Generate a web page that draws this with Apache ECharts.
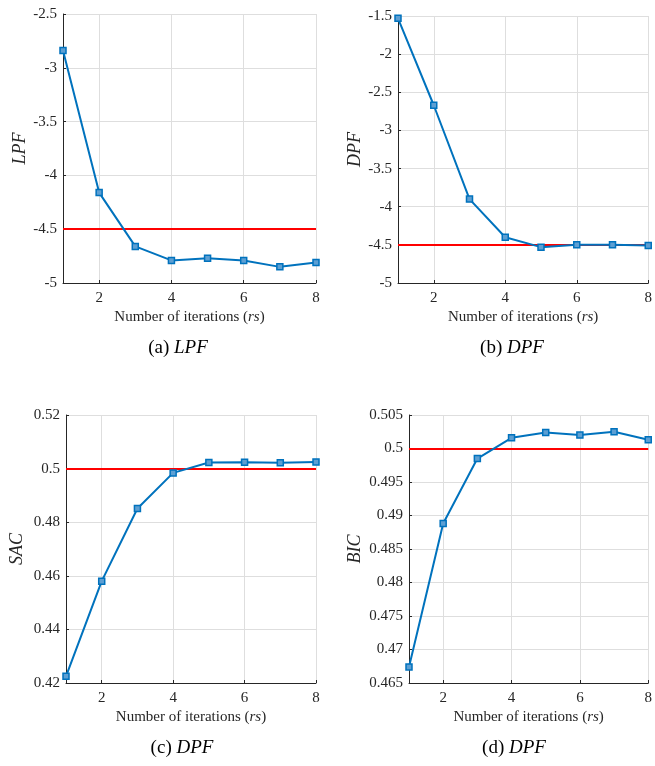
<!DOCTYPE html>
<html lang="en">
<head>
    <meta charset="UTF-8">
    <title>Iterations</title>
    <style>
        html,body{margin:0;padding:0;background:#fff}
        #main{width:655px;height:766px}
    </style>
</head>
<body>
<div id="main"></div>
<script src="https://cdn.jsdelivr.net/npm/echarts@6/dist/echarts.min.js"></script>
<script>
    // data
    var iters = [1, 2, 3, 4, 5, 6, 7, 8];
    var xTicks = [2, 4, 6, 8];
    var lpf = [-2.84, -4.16, -4.66, -4.79, -4.77, -4.79, -4.85, -4.81];
    var dpf = [-1.53, -2.67, -3.90, -4.40, -4.53, -4.50, -4.50, -4.51];
    var sac = [0.4225, 0.4580, 0.4851, 0.4984, 0.5023, 0.5024, 0.5022, 0.5025];
    var bic = [0.4674, 0.4888, 0.4985, 0.5016, 0.5024, 0.5020, 0.5025, 0.5013];
    var refLines = [-4.5, -4.5, 0.5, 0.5];
    var yNames = ['LPF', 'DPF', 'SAC', 'BIC'];
    var captions = [['(a) ', 'LPF'], ['(b) ', 'DPF'], ['(c) ', 'DPF'], ['(d) ', 'DPF']];
    var yMin = [-5, -5, 0.42, 0.465];
    var yMax = [-2.5, -1.5, 0.52, 0.505];
    var yStep = [0.5, 0.5, 0.02, 0.005];

    var allSeries = [lpf, dpf, sac, bic];
    // layout of the four panels
    var grids = [
        {left: 63, top: 14, width: 253, height: 269},
        {left: 398, top: 16, width: 254, height: 267},
        {left: 66, top: 415, width: 250, height: 268},
        {left: 409, top: 415, width: 243, height: 268}
    ];
    var nameGaps = [34, 34, 40, 45];
    var capPos = [[178, 348], [512, 348], [182, 748], [514, 748]];

    var serif = '"Liberation Serif", "DejaVu Serif", serif';
    var txt = '#262626';

    var myChart = echarts.init(document.getElementById('main'));

    var xAxes = [], yAxes = [], series = [], graphics = [];
    for (var i = 0; i < 4; i++) {
        xAxes.push({
            gridIndex: i, type: 'value', min: 1, max: 8,
            name: '{n|Number of iterations (}{i|rs}{n|)}',
            nameLocation: 'middle', nameGap: 27,
            nameTextStyle: {
                rich: {
                    n: {fontFamily: serif, fontSize: 15, color: txt},
                    i: {fontFamily: serif, fontSize: 15, color: txt, fontStyle: 'italic'}
                }
            },
            axisLine: {show: true, onZero: false, lineStyle: {color: '#262626', width: 1}},
            axisTick: {show: true, inside: true, length: 3, customValues: xTicks, lineStyle: {color: '#262626'}},
            axisLabel: {customValues: xTicks, fontFamily: serif, fontSize: 15, color: txt, margin: 8},
            splitLine: {show: true, lineStyle: {color: '#dedede', width: 1}}
        });
        yAxes.push({
            gridIndex: i, type: 'value', min: yMin[i], max: yMax[i], interval: yStep[i],
            name: yNames[i], nameLocation: 'middle', nameGap: nameGaps[i], nameRotate: 90,
            nameTextStyle: {fontFamily: serif, fontSize: 18, fontStyle: 'italic', color: txt},
            axisLine: {show: true, onZero: false, lineStyle: {color: '#262626', width: 1}},
            axisTick: {show: true, inside: true, length: 3, lineStyle: {color: '#262626'}},
            axisLabel: {fontFamily: serif, fontSize: 15, color: txt, margin: 6},
            splitLine: {show: true, lineStyle: {color: '#dedede', width: 1}}
        });
        var pts = [];
        for (var k = 0; k < iters.length; k++) pts.push([iters[k], allSeries[i][k]]);
        series.push({
            type: 'line', xAxisIndex: i, yAxisIndex: i, data: pts,
            symbol: 'rect', symbolSize: 6, showAllSymbol: true,
            lineStyle: {color: '#0072BD', width: 2},
            itemStyle: {color: '#5d9fd3', borderColor: '#0072BD', borderWidth: 1.5},
            z: 3,
            markLine: {
                silent: true, symbol: 'none', animation: false,
                label: {show: false},
                lineStyle: {color: '#ff0000', width: 2, type: 'solid'},
                data: [{yAxis: refLines[i]}],
                z: 2
            }
        });
        graphics.push({
            type: 'text', x: capPos[i][0], y: capPos[i][1],
            style: {
                text: '{n|' + captions[i][0] + '}{i|' + captions[i][1] + '}',
                align: 'center', verticalAlign: 'middle',
                rich: {
                    n: {fontFamily: serif, fontSize: 19, fill: '#000'},
                    i: {fontFamily: serif, fontSize: 19, fill: '#000', fontStyle: 'italic'}
                }
            }
        });
    }

    myChart.setOption({
        animation: false,
        backgroundColor: '#fff',
        grid: grids,
        xAxis: xAxes,
        yAxis: yAxes,
        series: series,
        graphic: graphics
    });
</script>
</body>
</html>
